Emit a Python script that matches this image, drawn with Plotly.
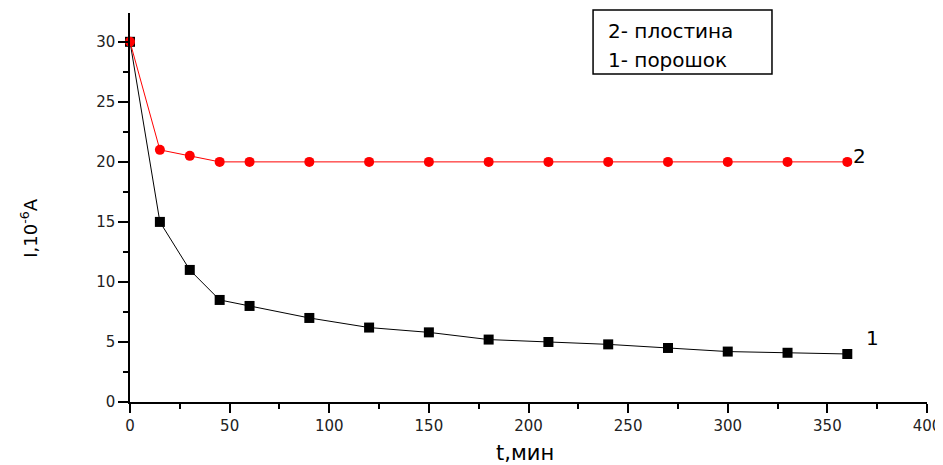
import plotly.graph_objects as go

t_min = [0, 15, 30, 45, 60, 90, 120, 150, 180, 210, 240, 270, 300, 330, 360]
current_powder = [30, 15, 11, 8.5, 8.0, 7.0, 6.2, 5.8, 5.2, 5.0, 4.8, 4.5, 4.2, 4.1, 4.0]
current_plate = [30, 21, 20.5, 20, 20, 20, 20, 20, 20, 20, 20, 20, 20, 20, 20]
x_ticks = [0, 50, 100, 150, 200, 250, 300, 350, 400]
y_ticks = [0, 5, 10, 15, 20, 25, 30]

FONT = "DejaVu Sans"

fig = go.Figure()
fig.add_trace(go.Scatter(
    x=t_min, y=current_powder, mode="lines+markers", name="1- порошок",
    line=dict(color="black", width=1),
    marker=dict(symbol="square", size=10, color="black"),
    cliponaxis=False,
))
fig.add_trace(go.Scatter(
    x=t_min, y=current_plate, mode="lines+markers", name="2- плостина",
    line=dict(color="#ff0000", width=1),
    marker=dict(symbol="circle", size=10, color="#ff0000"),
    cliponaxis=False,
))

# curve labels
fig.add_annotation(x=366, y=20.5, text="2", showarrow=False, xref="x", yref="y",
                   font=dict(family=FONT, size=20, color="black"))
fig.add_annotation(x=372.5, y=5.3, text="1", showarrow=False, xref="x", yref="y",
                   font=dict(family=FONT, size=20, color="black"))

# legend box
fig.add_shape(type="rect", xref="paper", yref="paper",
              x0=0.581, x1=0.8055, y0=0.843, y1=1.0077,
              line=dict(color="black", width=1.5), fillcolor="white")
fig.add_annotation(x=0.597, y=0.9545, xref="paper", yref="paper", text="2- плостина",
                   showarrow=False, xanchor="left", yanchor="middle",
                   font=dict(family=FONT, size=20, color="black"))
fig.add_annotation(x=0.597, y=0.8797, xref="paper", yref="paper", text="1- порошок",
                   showarrow=False, xanchor="left", yanchor="middle",
                   font=dict(family=FONT, size=20, color="black"))

# axis titles
fig.add_annotation(x=-0.126, y=0.447, xref="paper", yref="paper",
                   text="I,10<sup>-6</sup>A", textangle=-90, showarrow=False,
                   xanchor="center", yanchor="middle",
                   font=dict(family=FONT, size=18, color="black"))
fig.add_annotation(x=0.496, y=-0.131, xref="paper", yref="paper",
                   text="t,мин", showarrow=False, xanchor="center", yanchor="middle",
                   font=dict(family=FONT, size=21, color="black"))

fig.update_xaxes(
    range=[0, 400], tickvals=x_ticks, ticks="outside", ticklen=9, tickwidth=1.5,
    tickcolor="black", showline=True, linecolor="black", linewidth=1.5,
    showgrid=False, zeroline=False, automargin=False,
    tickfont=dict(family=FONT, size=15, color="#222"),
    minor=dict(dtick=25, ticks="outside", ticklen=5, tickwidth=1.5, tickcolor="black", showgrid=False),
)
fig.update_yaxes(
    range=[0, 32.4], tickvals=y_ticks, ticks="outside", ticklen=10, tickwidth=1.5,
    tickcolor="black", showline=True, linecolor="black", linewidth=1.5,
    showgrid=False, zeroline=False, automargin=False,
    tickfont=dict(family=FONT, size=15, color="#222"),
    minor=dict(dtick=2.5, ticks="outside", ticklen=5, tickwidth=1.5, tickcolor="black", showgrid=False),
)

# page body has an 8px margin, so the figure is sized/offset to compensate
fig.update_layout(
    width=935, height=457,
    margin=dict(l=122, r=16, t=5, b=63, autoexpand=False),
    plot_bgcolor="white", paper_bgcolor="white",
    showlegend=False,
)

fig.write_html("out.html")
